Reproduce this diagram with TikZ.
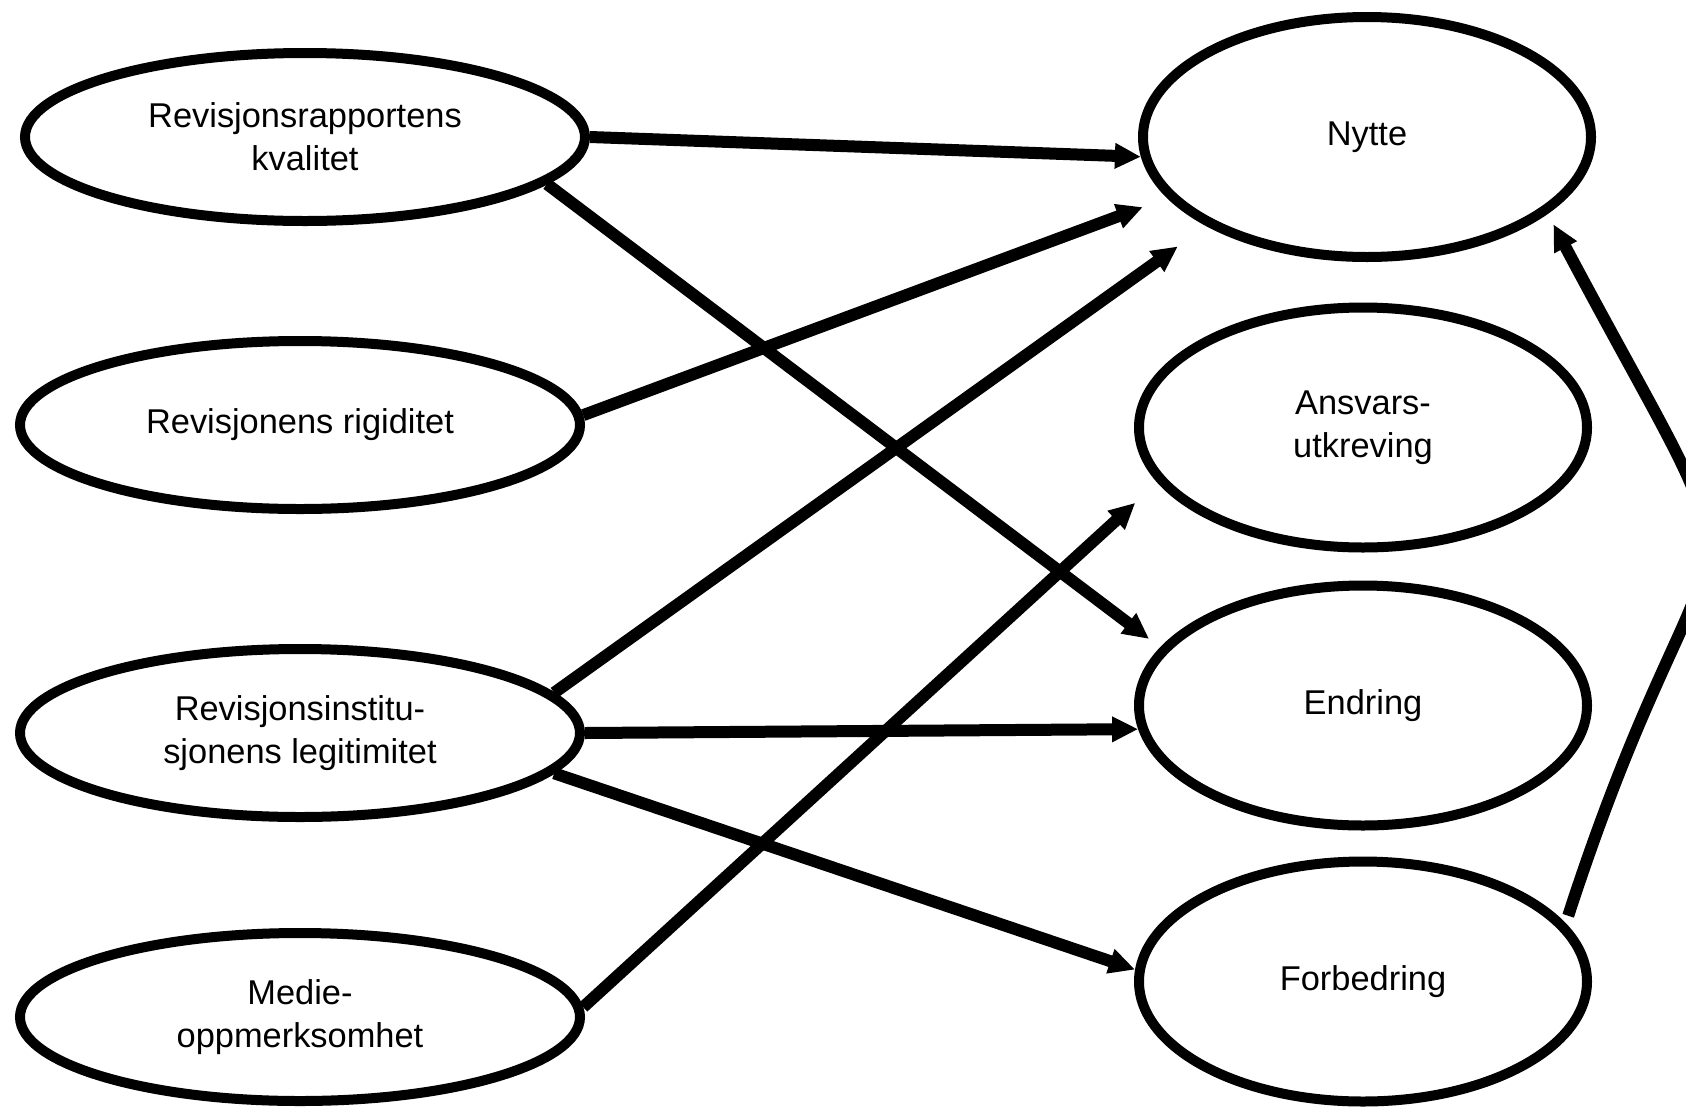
\documentclass[tikz,border=0pt]{standalone}
\usepackage{fontspec}
\setmainfont{Liberation Sans}
\usetikzlibrary{arrows.meta,positioning,shapes.geometric}

\begin{document}
\begin{tikzpicture}[
    cause/.style={ellipse,draw,line width=5pt,minimum width=280pt,minimum height=84pt,
      align=center,font=\fontsize{17.2}{21.5}\selectfont},
    effect/.style={ellipse,draw,line width=5pt,minimum width=224pt,minimum height=120pt,
      align=center,font=\fontsize{17.2}{21.5}\selectfont},
    link/.style={-{Triangle[length=13pt,width=12pt]},line width=6pt}
  ]
  \useasboundingbox (-152.5pt,68.5pt) rectangle (690.5pt,-486pt);

  \node[cause]  (kvalitet)                                       {Revisjonsrapportens\\kvalitet};
  \node[cause]  (rigiditet)   [below=55pt of kvalitet,xshift=-2.5pt] {Revisjonens rigiditet};
  \node[cause]  (legitimitet) [below=65pt of rigiditet]          {Revisjonsinstitu-\\sjonens legitimitet};
  \node[cause]  (medie)       [below=53pt of legitimitet]        {Medie-\\oppmerksomhet};
  \node[effect] (nytte)       [right=274pt of kvalitet]          {Nytte};
  \node[effect] (ansvar)      [below=20.25pt of nytte,xshift=-2pt] {Ansvars-\\utkreving};
  \node[effect] (endring)     [below=14pt of ansvar]             {Endring};
  \node[effect] (forbedring)  [below=13pt of endring]            {Forbedring};

  \draw[link] (kvalitet.east) -- (nytte.185);
  \draw[link,shorten >=7pt] (kvalitet.-11) -- (endring.164);
  \draw[link,shorten >=13pt] (rigiditet.2) -- (nytte.197);
  \draw[link,shorten >=17.5pt] (legitimitet.9) -- (nytte.209);
  \draw[link] (legitimitet.east) -- (endring.186);
  \draw[link] (legitimitet.-9) -- (forbedring.177);
  \draw[link,shorten >=15pt] (medie.2) -- (ansvar.195);
  \draw[link,shorten <=4pt,shorten >=6pt] (forbedring.16) to[out=72,in=-62,looseness=1.8] (nytte.-23);
\end{tikzpicture}
\end{document}
